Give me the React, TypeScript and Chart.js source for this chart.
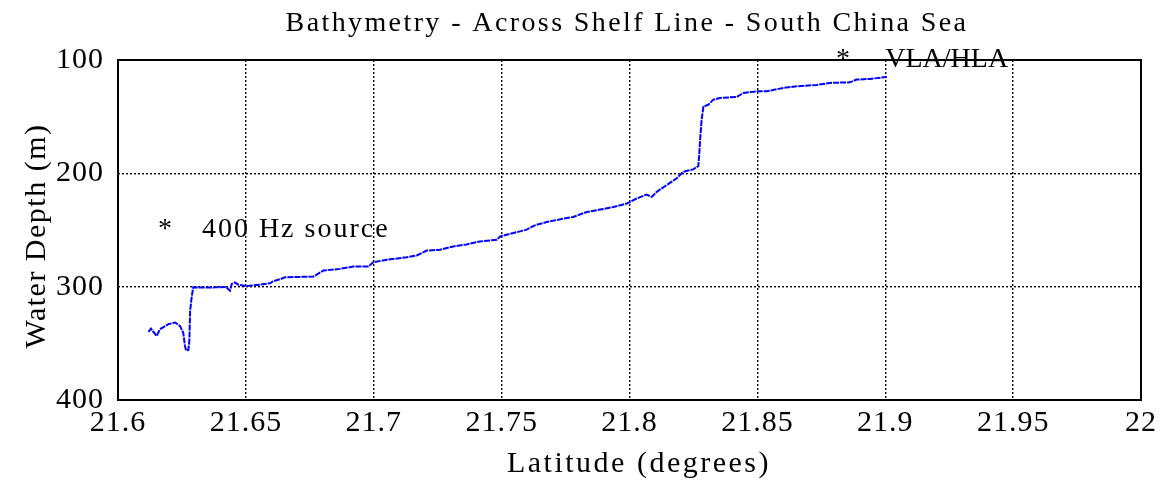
import React, { useEffect, useRef } from "react";
import { Chart, registerables } from "chart.js";

Chart.register(...registerables);

// ---- data ----
const latitude: number[] = [
  21.6119, 21.6129, 21.6151, 21.6164, 21.6197, 21.6223, 21.6242, 21.6255, 21.6262, 21.6266,
  21.6275, 21.6279, 21.6282, 21.6288, 21.6294, 21.6330, 21.6380, 21.6422, 21.6438, 21.6445,
  21.6457, 21.6469, 21.6500, 21.6555, 21.6594, 21.6606, 21.6633, 21.6653, 21.6764, 21.6803,
  21.6868, 21.6920, 21.6979, 21.6998, 21.7051, 21.7129, 21.7168, 21.7207, 21.7259, 21.7311,
  21.7363, 21.7415, 21.7481, 21.7494, 21.7546, 21.7598, 21.7630, 21.7676, 21.7741, 21.7780,
  21.7833, 21.7885, 21.7937, 21.7989, 21.8028, 21.8067, 21.8087, 21.8106, 21.8145, 21.8184,
  21.8210, 21.8249, 21.8269, 21.8273, 21.8276, 21.8282, 21.8289, 21.8308, 21.8328, 21.8354,
  21.8419, 21.8445, 21.8497, 21.8536, 21.8601, 21.8654, 21.8732, 21.8784, 21.8862, 21.8888,
  21.8940, 21.9006,
];

const waterDepth: number[] = [
  339.9, 337.0, 343.5, 337.6, 333.1, 331.6, 334.6, 340.5, 352.3, 356.2,
  356.0, 347.9, 321.3, 309.5, 300.6, 300.8, 300.6, 300.2, 303.5, 297.5,
  296.2, 298.2, 299.5, 298.2, 297.0, 295.3, 293.5, 291.7, 291.1, 285.8,
  284.3, 282.3, 282.3, 278.4, 276.3, 274.0, 272.5, 268.1, 267.5, 264.5,
  262.7, 260.1, 258.6, 255.7, 252.7, 249.7, 245.9, 243.0, 240.0, 238.5,
  234.1, 232.0, 229.7, 226.7, 222.2, 218.7, 220.8, 216.4, 210.4, 204.5,
  198.6, 196.5, 193.6, 182.3, 170.5, 152.8, 141.0, 139.5, 135.0, 133.5,
  132.6, 129.1, 127.6, 127.6, 124.7, 123.2, 122.0, 120.2, 119.7, 117.3,
  116.7, 114.9,
];

const xTicks: number[] = [21.6, 21.65, 21.7, 21.75, 21.8, 21.85, 21.9, 21.95, 22];
const yTicks: number[] = [100, 200, 300, 400];

const chartTitle = "Bathymetry - Across Shelf Line - South China Sea";
const xTitle = "Latitude (degrees)";
const yTitle = "Water Depth (m)";

// annotations (data coordinates, text baseline)
const annotationLats: number[] = [21.6156, 21.6328, 21.8807, 21.9];
const annotationDepths: number[] = [256.5, 256.5, 105.8, 105.8];
const annotationTexts: string[] = ["*", "400 Hz source", "*", "VLA/HLA"];
const annotationSpacing: string[] = ["0px", "2px", "0px", "0px"];

const FONT = '"Liberation Serif", "Times New Roman", serif';

export default function App() {
  const canvasRef = useRef<HTMLCanvasElement | null>(null);

  useEffect(() => {
    if (!canvasRef.current) return;

    const decor = {
      id: "decor",
      beforeDraw(chart: any) {
        chart.ctx.letterSpacing = "1px";
      },
      afterDraw(chart: any) {
        const { ctx, chartArea: a, scales } = chart;
        ctx.save();
        ctx.setLineDash([]);
        ctx.strokeStyle = "#000";
        ctx.lineWidth = 2;
        ctx.strokeRect(a.left, a.top, a.right - a.left, a.bottom - a.top);

        ctx.fillStyle = "#000";
        ctx.textBaseline = "alphabetic";

        // main title
        ctx.textAlign = "center";
        ctx.font = `28px ${FONT}`;
        ctx.letterSpacing = "2.4px";
        ctx.fillText(chartTitle, 627, 31);

        // x title
        ctx.font = `30px ${FONT}`;
        ctx.letterSpacing = "2.5px";
        ctx.fillText(xTitle, 639, 472);

        // y title
        ctx.save();
        ctx.translate(45, 236);
        ctx.rotate(-Math.PI / 2);
        ctx.font = `30px ${FONT}`;
        ctx.letterSpacing = "1.5px";
        ctx.fillText(yTitle, 0, 0);
        ctx.restore();

        // annotations
        ctx.textAlign = "left";
        ctx.font = `28px ${FONT}`;
        const xs = scales.x, ys = scales.y;
        annotationTexts.forEach((t, i) => {
          ctx.letterSpacing = annotationSpacing[i];
          ctx.fillText(t, xs.getPixelForValue(annotationLats[i]), ys.getPixelForValue(annotationDepths[i]));
        });
        ctx.restore();
      },
    };

    const chart = new Chart(canvasRef.current, {
      type: "line",
      data: {
        datasets: [
          {
            data: latitude.map((x, i) => ({ x, y: waterDepth[i] })),
            borderColor: "#0000ff",
            borderWidth: 2,
            borderDash: [6, 1],
            pointRadius: 0,
            tension: 0,
            fill: false,
          },
        ],
      },
      options: {
        animation: false,
        responsive: true,
        maintainAspectRatio: false,
        layout: { padding: { top: 60, right: 32, left: 0, bottom: 0 } },
        plugins: { legend: { display: false }, tooltip: { enabled: false }, title: { display: false } },
        scales: {
          x: {
            type: "linear",
            min: 21.6,
            max: 22,
            afterBuildTicks: (s: any) => {
              s.ticks = xTicks.map((v) => ({ value: v }));
            },
            afterFit: (s: any) => {
              s.height = 82;
            },
            ticks: {
              autoSkip: false,
              maxRotation: 0,
              color: "#000",
              padding: 5,
              font: { family: FONT, size: 30 },
              callback: (v: any) => String(Number(Number(v).toFixed(2))),
            },
            grid: { color: "#000", lineWidth: 1.4, drawTicks: false },
            border: { display: false, dash: [2, 2] },
          },
          y: {
            type: "linear",
            reverse: true,
            min: 100,
            max: 400,
            afterBuildTicks: (s: any) => {
              s.ticks = yTicks.map((v) => ({ value: v }));
            },
            afterFit: (s: any) => {
              s.width = 118;
            },
            ticks: {
              color: "#000",
              padding: 14,
              font: { family: FONT, size: 30 },
              callback: (v: any) => String(v),
            },
            grid: { color: "#000", lineWidth: 1.4, drawTicks: false },
            border: { display: false, dash: [2, 2] },
          },
        },
      },
      plugins: [decor],
    });

    return () => chart.destroy();
  }, []);

  return (
    <div style={{ position: "absolute", left: 0, top: 0, width: 1173, height: 482, background: "#fff" }}>
      <canvas ref={canvasRef} />
    </div>
  );
}
